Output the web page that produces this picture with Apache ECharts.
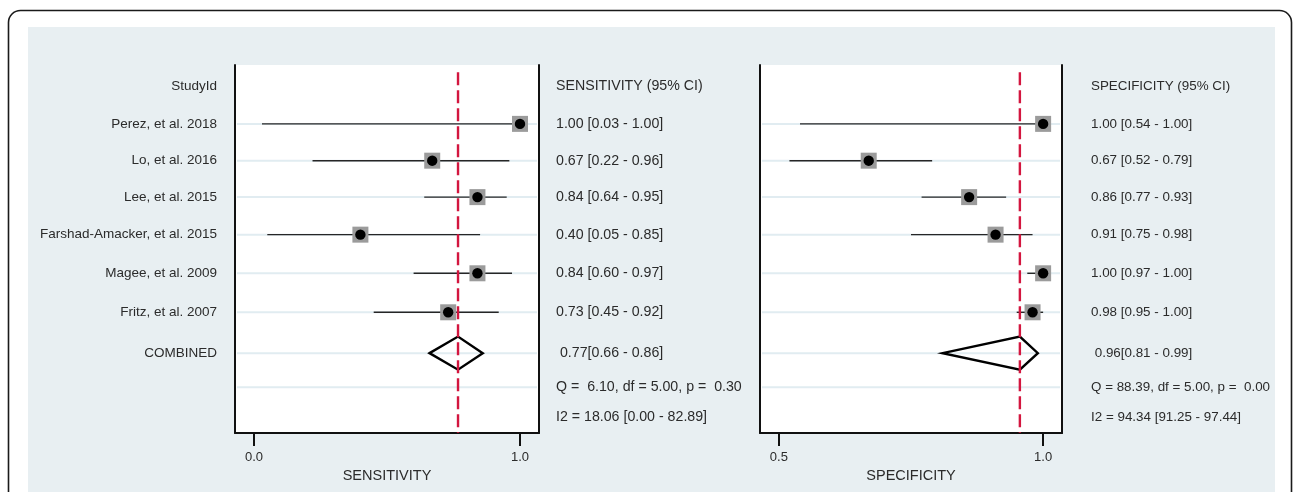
<!DOCTYPE html>
<html>
<head>
<meta charset="utf-8">
<script src="https://cdn.jsdelivr.net/npm/echarts@6/dist/echarts.min.js"></script>
<style>
  html, body { margin: 0; padding: 0; background: #ffffff; }
  #chart { width: 1295px; height: 492px; }
</style>
</head>
<body>
<div id="chart"></div>
<script>
// ---------------- DATA ----------------
const studies = ['Perez, et al. 2018', 'Lo, et al. 2016', 'Lee, et al. 2015',
  'Farshad-Amacker, et al. 2015', 'Magee, et al. 2009', 'Fritz, et al. 2007'];
const sensEst = [1.00, 0.67, 0.84, 0.40, 0.84, 0.73];
const sensLo  = [0.03, 0.22, 0.64, 0.05, 0.60, 0.45];
const sensHi  = [1.00, 0.96, 0.95, 0.85, 0.97, 0.92];
const specEst = [1.00, 0.67, 0.86, 0.91, 1.00, 0.98];
const specLo  = [0.54, 0.52, 0.77, 0.75, 0.97, 0.95];
const specHi  = [1.00, 0.79, 0.93, 0.98, 1.00, 1.00];
const sensPooled = [0.767, 0.66, 0.86];   // estimate, lower, upper
const specPooled = [0.956, 0.81, 0.99];
const sensStatsText = ['Q =  6.10, df = 5.00, p =  0.30', 'I2 = 18.06 [0.00 - 82.89]'];
const specStatsText = ['Q = 88.39, df = 5.00, p =  0.00', 'I2 = 94.34 [91.25 - 97.44]'];
const headerLabel = 'StudyId';
const pooledLabel = 'COMBINED';
const sensHeader = 'SENSITIVITY (95% CI)';
const specHeader = 'SPECIFICITY (95% CI)';
const sensAxisName = 'SENSITIVITY';
const specAxisName = 'SPECIFICITY';
const sensTicks = [0, 1];
const specTicks = [0.5, 1];

// ---------------- LAYOUT ----------------
// vertical row positions (row units on a 0..10 axis)
const ROW_Y = [0.57, 1.60, 2.60, 3.59, 4.61, 5.66, 6.72, 7.83, 8.76, 9.57];
const DIAMOND_HALF = 0.45;
const FONT = "'Liberation Sans', Arial, sans-serif";
const TXT = '#2b2b2b';

const f2 = v => v.toFixed(2);
function ciText(e, l, h) { return f2(e) + ' [' + f2(l) + ' - ' + f2(h) + ']'; }

function buildColumn(header, est, lo, hi, pooled, stats) {
  const col = [header];
  for (let i = 0; i < est.length; i++) col.push(ciText(est[i], lo[i], hi[i]));
  col.push(' ' + f2(pooled[0]) + '[' + f2(pooled[1]) + ' - ' + f2(pooled[2]) + ']');
  col.push(stats[0], stats[1]);
  return col;
}
const labelCol = [headerLabel].concat(studies, [pooledLabel]);
const sensCol = buildColumn(sensHeader, sensEst, sensLo, sensHi, sensPooled, sensStatsText);
const specCol = buildColumn(specHeader, specEst, specLo, specHi, specPooled, specStatsText);

function studyData(est, lo, hi) {
  return est.map((e, i) => [e, lo[i], hi[i], ROW_Y[i + 1]]);
}

// ---------------- RENDERERS ----------------
function renderGridLine(params, api) {
  const cs = params.coordSys;
  const y = api.coord([0, api.value(1)])[1];
  return { type: 'line', shape: { x1: cs.x + 2, y1: y, x2: cs.x + cs.width - 2, y2: y },
    style: { stroke: '#e1ecf1', lineWidth: 2 } };
}
function renderCI(params, api) {
  const ry = api.value(3);
  const pL = api.coord([api.value(1), ry]);
  const pH = api.coord([api.value(2), ry]);
  return { type: 'line', shape: { x1: pL[0], y1: pL[1], x2: pH[0], y2: pH[1] },
    style: { stroke: '#262626', lineWidth: 1.4 } };
}
function renderMarker(params, api) {
  const p = api.coord([api.value(0), api.value(3)]);
  return { type: 'group', children: [
    { type: 'rect', shape: { x: p[0] - 8, y: p[1] - 8, width: 16, height: 16 },
      style: { fill: '#9b9b9b' } },
    { type: 'circle', shape: { cx: p[0], cy: p[1], r: 5.2 }, style: { fill: '#000' } }
  ]};
}
function renderDiamond(params, api) {
  const e = api.value(0), l = api.value(1), h = api.value(2), ry = api.value(3);
  const pts = [api.coord([l, ry]), api.coord([e, ry - DIAMOND_HALF]),
               api.coord([h, ry]), api.coord([e, ry + DIAMOND_HALF])];
  return { type: 'polygon', shape: { points: pts },
    style: { fill: 'none', stroke: '#000', lineWidth: 2.4, lineJoin: 'miter' } };
}
function renderRef(params, api) {
  const v = api.value(0);
  const a = api.coord([v, 0.2]), b = api.coord([v, 10]);
  return { type: 'line', shape: { x1: a[0], y1: a[1], x2: b[0], y2: b[1] },
    style: { stroke: '#d3163f', lineWidth: 2.4, lineDash: [13, 5] } };
}
function makeTextRenderer(texts, side, offset, size) {
  return function (params, api) {
    const cs = params.coordSys;
    const y = api.coord([0, api.value(1)])[1];
    const x = side === 'left' ? cs.x - offset : cs.x + cs.width + offset;
    return { type: 'text', x: x, y: y,
      style: { text: texts[params.dataIndex], fill: TXT, font: size + 'px ' + FONT,
        align: side === 'left' ? 'right' : 'left', verticalAlign: 'middle' } };
  };
}

// ---------------- AXES ----------------
function xAxisDef(gi, min, max, name, ticks) {
  return {
    gridIndex: gi, type: 'value', min: min, max: max,
    name: name, nameLocation: 'middle', nameGap: 35,
    nameTextStyle: { fontSize: 14.5, color: TXT, fontFamily: FONT },
    axisLine: { show: true, onZero: false, lineStyle: { color: '#111', width: 2 } },
    axisTick: { show: true, length: 13, customValues: ticks, lineStyle: { color: '#111', width: 2 } },
    axisLabel: { show: true, customValues: ticks, formatter: v => Number(v).toFixed(1),
      margin: 18, fontSize: 13, color: TXT, fontFamily: FONT },
    splitLine: { show: false }
  };
}
function yAxisDef(gi, pos) {
  return {
    gridIndex: gi, type: 'value', inverse: true, min: 0, max: 10, position: pos,
    axisLine: { show: true, onZero: false, lineStyle: { color: '#111', width: 2 } },
    axisTick: { show: false }, axisLabel: { show: false }, splitLine: { show: false }
  };
}

const gridRows = ROW_Y.slice(1, 9).map(r => [0, r]);
const textRows = ROW_Y.map(r => [0, r]);

function panelSeries(xi, yi, est, lo, hi, pooled, valueCol, valueOffset, valueSize, withLabels) {
  const s = [
    { type: 'custom', xAxisIndex: xi, yAxisIndex: yi, renderItem: renderGridLine, data: gridRows, silent: true },
    { type: 'custom', xAxisIndex: xi, yAxisIndex: yi, renderItem: renderCI, data: studyData(est, lo, hi), silent: true },
    { type: 'custom', xAxisIndex: xi, yAxisIndex: yi, renderItem: renderDiamond,
      data: [[pooled[0], pooled[1], pooled[2], ROW_Y[7]]], silent: true },
    { type: 'custom', xAxisIndex: xi, yAxisIndex: yi, renderItem: renderRef, data: [[pooled[0], 0]], silent: true },
    { type: 'custom', xAxisIndex: xi, yAxisIndex: yi, renderItem: renderMarker, data: studyData(est, lo, hi), silent: true },
    { type: 'custom', xAxisIndex: xi, yAxisIndex: yi, renderItem: makeTextRenderer(valueCol, 'right', valueOffset, valueSize),
      data: textRows, silent: true, clip: false }
  ];
  if (withLabels) {
    s.push({ type: 'custom', xAxisIndex: xi, yAxisIndex: yi, renderItem: makeTextRenderer(labelCol, 'left', 18, 13.5),
      data: textRows.slice(0, labelCol.length), silent: true, clip: false });
  }
  return s;
}

const option = {
  animation: false,
  backgroundColor: '#ffffff',
  graphic: [
    { type: 'rect', z: -100, silent: true,
      shape: { x: 8.5, y: 10.5, width: 1283, height: 620, r: 12 },
      style: { fill: '#ffffff', stroke: '#1a1a1a', lineWidth: 1.6 } },
    { type: 'rect', z: -99, silent: true,
      shape: { x: 28, y: 27, width: 1247, height: 480 },
      style: { fill: '#e8eff2' } }
  ],
  grid: [
    { left: 235, top: 65, width: 304, height: 368, show: true, backgroundColor: '#ffffff', borderWidth: 0 },
    { left: 760, top: 65, width: 302, height: 368, show: true, backgroundColor: '#ffffff', borderWidth: 0 }
  ],
  xAxis: [
    xAxisDef(0, -1 / 14, 15 / 14, sensAxisName, sensTicks),
    xAxisDef(1, 0.5 - 1 / 28, 1 + 1 / 28, specAxisName, specTicks)
  ],
  yAxis: [yAxisDef(0, 'left'), yAxisDef(0, 'right'), yAxisDef(1, 'left'), yAxisDef(1, 'right')],
  series: [].concat(
    panelSeries(0, 0, sensEst, sensLo, sensHi, sensPooled, sensCol, 17, 14.2, true),
    panelSeries(1, 2, specEst, specLo, specHi, specPooled, specCol, 29, 13.4, false)
  )
};

const chart = echarts.init(document.getElementById('chart'), null, { renderer: 'canvas' });
chart.setOption(option);
</script>
</body>
</html>
